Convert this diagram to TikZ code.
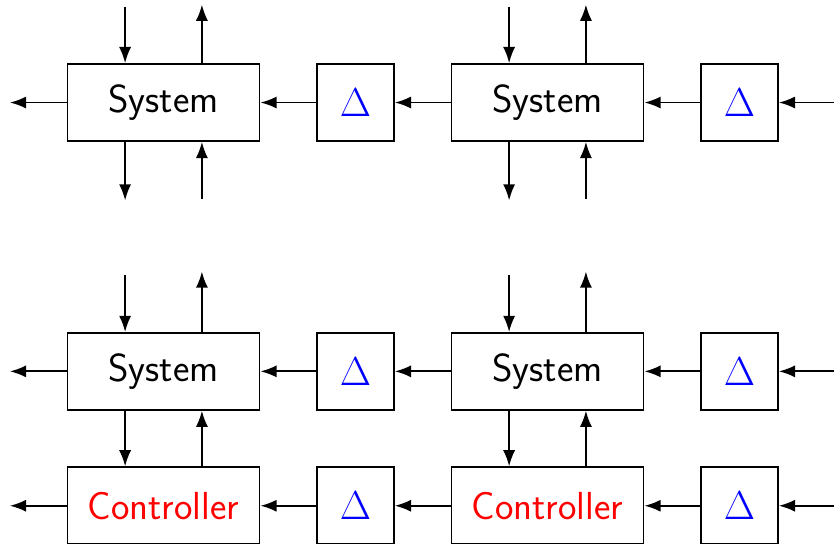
\documentclass[tikz,border=0pt]{standalone}
\usepackage{fix-cm}
\usetikzlibrary{arrows.meta}
\begin{document}
\begin{tikzpicture}[
  line width=1.4pt,
  arr/.style={-{Latex[length=12pt,width=9pt]}},
  blockbox/.style={draw, minimum width=5cm, minimum height=2cm, inner sep=0pt,
    font=\sffamily\fontsize{29}{34}\selectfont},
  uncbox/.style={draw, minimum width=2cm, minimum height=2cm, inner sep=0pt,
    text=blue, font=\fontsize{30}{35}\selectfont}
]
\useasboundingbox (-4.258,2.67) rectangle (17.46,-11.49);
\clip (-4.258,2.67) rectangle (17.46,-11.49);

% ---- upper chain: plants with uncertainty blocks
\node[blockbox] (sa1) at (0,0) {System};
\node[uncbox]   (da1) at (5,0) {$\Delta$};
\node[blockbox] (sa2) at (10,0) {System};
\node[uncbox]   (da2) at (15,0) {$\Delta$};
\coordinate (la) at (-4,0);
\coordinate (ra) at (17.5,0);

\draw[arr] (sa1.west) -- (la);
\draw[arr] (da1.west) -- (sa1.east);
\draw[arr] (sa2.west) -- (da1.east);
\draw[arr] (da2.west) -- (sa2.east);
\draw[arr] (ra) -- (da2.east);

\foreach \i/\x in {1/0, 2/10} {
  \coordinate (tin\i)  at (\x-1, 2.5);
  \coordinate (tout\i) at (\x+1, 2.55);
  \coordinate (bout\i) at (\x-1,-2.55);
  \coordinate (bin\i)  at (\x+1,-2.5);
  \draw[arr] (tin\i) -- (tin\i |- sa\i.north);
  \draw[arr] (tout\i |- sa\i.north) -- (tout\i);
  \draw[arr] (bout\i |- sa\i.south) -- (bout\i);
  \draw[arr] (bin\i) -- (bin\i |- sa\i.south);
}

% ---- lower chain: plants in closed loop with controllers
\node[blockbox] (sb1) at (0,-7) {System};
\node[uncbox]   (db1) at (5,-7) {$\Delta$};
\node[blockbox] (sb2) at (10,-7) {System};
\node[uncbox]   (db2) at (15,-7) {$\Delta$};
\coordinate (lb) at (-4,-7);
\coordinate (rb) at (17.5,-7);

\node[blockbox, text=red] (cb1) at (0,-10.5) {Controller};
\node[uncbox]             (eb1) at (5,-10.5) {$\Delta$};
\node[blockbox, text=red] (cb2) at (10,-10.5) {Controller};
\node[uncbox]             (eb2) at (15,-10.5) {$\Delta$};
\coordinate (lc) at (-4,-10.5);
\coordinate (rc) at (17.5,-10.5);

\draw[arr] (sb1.west) -- (lb);
\draw[arr] (db1.west) -- (sb1.east);
\draw[arr] (sb2.west) -- (db1.east);
\draw[arr] (db2.west) -- (sb2.east);
\draw[arr] (rb) -- (db2.east);

\draw[arr] (cb1.west) -- (lc);
\draw[arr] (eb1.west) -- (cb1.east);
\draw[arr] (cb2.west) -- (eb1.east);
\draw[arr] (eb2.west) -- (cb2.east);
\draw[arr] (rc) -- (eb2.east);

\foreach \i/\x in {1/0, 2/10} {
  \coordinate (uin\i)  at (\x-1,-4.5);
  \coordinate (uout\i) at (\x+1,-4.4);
  \draw[arr] (uin\i) -- (uin\i |- sb\i.north);
  \draw[arr] (uout\i |- sb\i.north) -- (uout\i);
  \draw[arr] (uin\i |- sb\i.south) -- (uin\i |- cb\i.north);
  \draw[arr] (uout\i |- cb\i.north) -- (uout\i |- sb\i.south);
}
\end{tikzpicture}
\end{document}
